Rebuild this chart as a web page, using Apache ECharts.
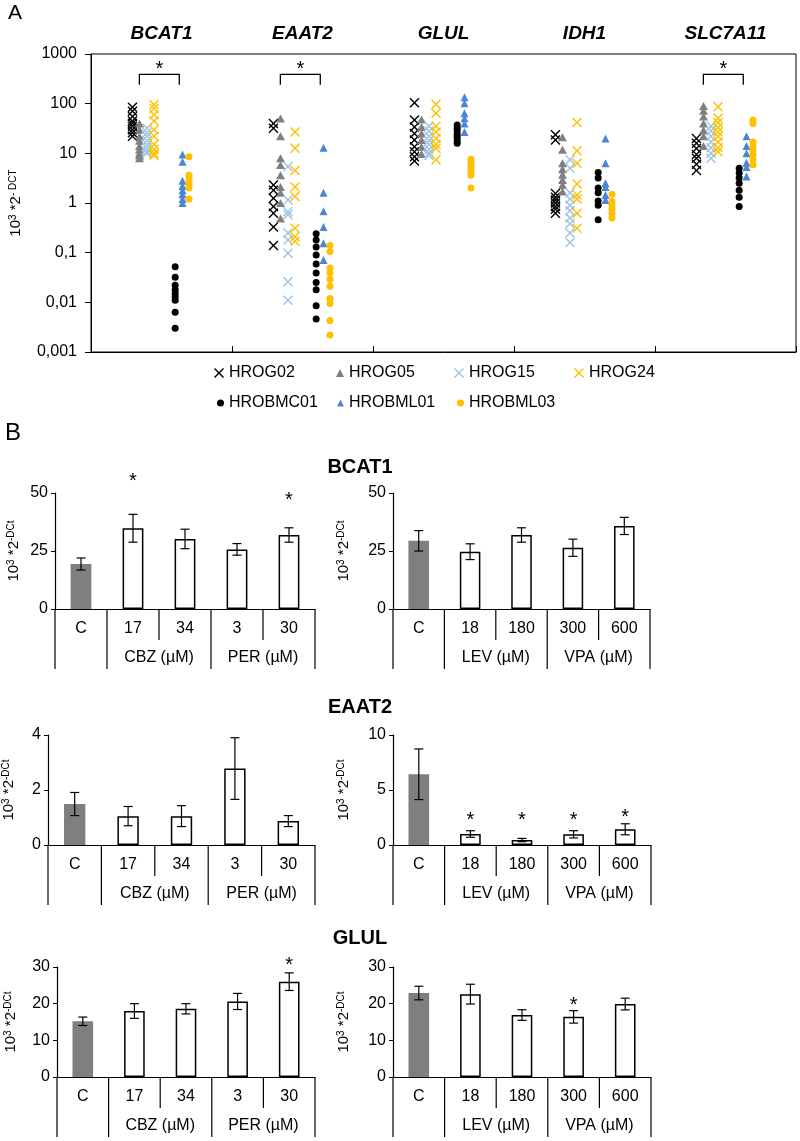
<!DOCTYPE html>
<html><head><meta charset="utf-8">
<script src="https://cdn.jsdelivr.net/npm/echarts@6/dist/echarts.min.js"></script>
<style>html,body{margin:0;padding:0;background:#fff}#c{width:800px;height:1141px}</style>
</head><body><div id="c"></div>
<script>
const FONT = '"Liberation Sans", Arial, sans-serif';

// ---------- Panel A data ----------
const genes = ['BCAT1', 'EAAT2', 'GLUL', 'IDH1', 'SLC7A11'];
const yLabelsA = ['0,001', '0,01', '0,1', '1', '10', '100', '1000'];
// each list: values per gene in order BCAT1, EAAT2, GLUL, IDH1, SLC7A11
const HROG02 = [
  [85, 70, 55, 45, 40, 35, 30, 26, 22],
  [40, 32, 2.3, 1.8, 1.25, 0.85, 0.62, 0.33, 0.14],
  [104, 47, 34, 25, 18.5, 13.6, 10.8, 8.5, 7],
  [23.6, 18.5, 1.55, 1.3, 1.15, 1.0, 0.85, 0.75, 0.62],
  [20, 16, 12.5, 9.5, 8, 6, 4.5]
];
const HROG05 = [
  [40, 30, 22, 18, 14, 12, 10, 9, 8],
  [50, 22, 8, 5.8, 3.6, 2.1, 1.6, 1.0, 0.49],
  [48, 34, 25, 18.5, 13.6, 9.7],
  [21, 11.8, 6.3, 4.8, 3.7, 2.9, 2.3, 1.7],
  [90, 72, 55, 40, 29, 22, 14]
];
const HROG15 = [
  [32, 26, 22, 18, 15, 13, 11, 10],
  [5.4, 1.15, 0.67, 0.58, 0.25, 0.18, 0.097, 0.026, 0.011],
  [35, 28, 22, 18, 15, 12, 10, 9],
  [7.4, 5.0, 1.6, 1.2, 0.9, 0.7, 0.5, 0.38, 0.25, 0.16],
  [35, 28, 22, 17, 13, 10, 8]
];
const HROG24 = [
  [95, 80, 60, 45, 30, 22, 15, 12, 10, 9],
  [27, 12.7, 4.5, 2.1, 1.35, 0.31, 0.21, 0.17],
  [97, 64, 35, 27, 20, 15, 12.6, 7.4],
  [42, 11.3, 6.3, 2.4, 1.45, 1.2, 0.62, 0.31],
  [87, 51, 42, 33, 27, 22, 17, 13, 10.7]
];
const HROBMC01 = [
  [0.052, 0.032, 0.022, 0.018, 0.015, 0.013, 0.011, 0.0063, 0.003],
  [0.24, 0.18, 0.13, 0.09, 0.059, 0.039, 0.025, 0.018, 0.0085, 0.0046],
  [37, 32, 28, 24, 21, 18, 16],
  [4.1, 3.2, 2.0, 1.6, 1.1, 0.9, 0.46],
  [5.0, 4.0, 3.2, 2.5, 1.8, 1.3, 0.85]
];
const HROBML01 = [
  [9.5, 6.8, 2.8, 2.2, 1.8, 1.5, 1.2, 1.0],
  [13, 1.6, 0.68, 0.33, 0.155, 0.071],
  [134, 102, 64, 51, 40, 27],
  [20, 6.3, 2.5, 2.1, 1.45, 1.15],
  [22, 14, 10, 6.5, 5.3, 3.4]
];
const HROBML03 = [
  [8.5, 3.6, 3.1, 2.7, 2.3, 2.0, 1.2],
  [0.14, 0.105, 0.049, 0.039, 0.029, 0.021, 0.012, 0.0095, 0.0043, 0.0022],
  [7.6, 6.5, 5.7, 4.9, 4.3, 3.6, 2.0],
  [1.5, 1.07, 0.9, 0.75, 0.62, 0.5],
  [47, 40, 17, 14, 11.5, 9.5, 7.5, 5.9]
];
const sigGenesA = ['BCAT1', 'EAAT2', 'SLC7A11'];

// ---------- Panel B data ----------
const catsL = ['C', '17', '34', '3', '30'];
const catsR = ['C', '18', '180', '300', '600'];
const groupsL = ['CBZ (µM)', 'PER (µM)'];
const groupsR = ['LEV (µM)', 'VPA (µM)'];

const bcat1L = [19.4, 34.8, 30.2, 25.7, 31.9];
const bcat1LErr = [2.6, 6.0, 4.2, 2.5, 3.1];
const bcat1LStar = [null, 56.5, null, null, 48.4];
const bcat1R = [29.4, 24.7, 31.9, 26.4, 35.8];
const bcat1RErr = [4.4, 3.4, 3.1, 3.7, 3.7];
const bcat1RStar = [null, null, null, null, null];

const eaat2L = [1.49, 1.05, 1.05, 2.78, 0.87];
const eaat2LErr = [0.42, 0.35, 0.38, 1.12, 0.2];
const eaat2LStar = [null, null, null, null, null];
const eaat2R = [6.43, 1.0, 0.45, 0.97, 1.43];
const eaat2RErr = [2.3, 0.3, 0.15, 0.33, 0.5];
const eaat2RStar = [null, 2.6, 2.6, 2.6, 2.9];

const glulL = [15.2, 18.0, 18.6, 20.6, 26.0];
const glulLErr = [1.15, 2.0, 1.4, 2.2, 2.4];
const glulLStar = [null, null, null, null, 31.4];
const glulR = [22.9, 22.6, 16.9, 16.4, 19.9];
const glulRErr = [1.85, 2.7, 1.45, 1.7, 1.6];
const glulRStar = [null, null, null, 20.5, null];

// ---------- build ----------
const XPATH = 'path://M0,1L1,0L5,4L9,0L10,1L6,5L10,9L9,10L5,6L1,10L0,9L4,5Z';
const seriesDefsA = [
  {name: 'HROG02', data: HROG02, off: -0.206, symbol: XPATH, size: 10, color: '#000000', icon: 10},
  {name: 'HROG05', data: HROG05, off: -0.156, symbol: 'triangle', size: [9, 8], color: '#808080', icon: 8},
  {name: 'HROG15', data: HROG15, off: -0.103, symbol: XPATH, size: 10, color: '#9DC3E6', icon: 10},
  {name: 'HROG24', data: HROG24, off: -0.053, symbol: XPATH, size: 10, color: '#FFC000', icon: 10},
  {name: 'HROBMC01', data: HROBMC01, off: 0.097, symbol: 'circle', size: 7, color: '#000000', icon: 7},
  {name: 'HROBML01', data: HROBML01, off: 0.149, symbol: 'triangle', size: [8, 8], color: '#4A86D4', icon: 7},
  {name: 'HROBML03', data: HROBML03, off: 0.195, symbol: 'circle', size: 7, color: '#FFC000', icon: 7}
];
// legend grid: column, row
const legendSlots = [[0, 0], [1, 0], [2, 0], [3, 0], [0, 1], [1, 1], [2, 1]];

const grid = [], xAxis = [], yAxis = [], series = [];
const nameRich = {s: {fontSize: 10, fontFamily: FONT, color: '#000', verticalAlign: 'top', lineHeight: 10}};

grid.push({left: 91, top: 54, width: 705, height: 298, show: true, borderColor: '#000', borderWidth: 1, backgroundColor: 'transparent'});
xAxis.push({type: 'value', gridIndex: 0, min: 0, max: 5, interval: 1,
  axisLine: {show: true, onZero: false, lineStyle: {color: '#000'}},
  axisTick: {show: true, inside: true, length: 6, lineStyle: {color: '#000'}},
  axisLabel: {show: false}, splitLine: {show: false}});
xAxis.push({type: 'category', gridIndex: 0, position: 'top', data: genes,
  axisLine: {show: false}, axisTick: {show: false}, splitLine: {show: false},
  axisLabel: {fontFamily: FONT, fontSize: 19, fontWeight: 'bold', fontStyle: 'italic', color: '#000', margin: 11}});
yAxis.push({type: 'log', gridIndex: 0, logBase: 10, min: 0.001, max: 1000, splitNumber: 6,
  axisLine: {show: true, onZero: false, lineStyle: {color: '#000'}},
  axisTick: {show: true, length: 6, lineStyle: {color: '#000'}},
  minorTick: {show: false}, splitLine: {show: false},
  axisLabel: {formatter: v => yLabelsA[Math.round(Math.log10(v)) + 3], fontSize: 16, fontFamily: FONT, color: '#000', margin: 14},
  name: '10{s|3} *2{s|- DCT}', nameLocation: 'middle', nameGap: 68, nameRotate: 90,
  nameTextStyle: {fontSize: 15, fontFamily: FONT, color: '#000', rich: nameRich}});

seriesDefsA.forEach(d => {
  const pts = [];
  d.data.forEach((vals, gi) => vals.forEach(v => pts.push([gi + 0.5 + d.off, v])));
  series.push({type: 'scatter', name: d.name, xAxisIndex: 0, yAxisIndex: 0, data: pts,
    symbol: d.symbol, symbolSize: d.size, itemStyle: {color: d.color, opacity: 1}, silent: true});
});

// significance brackets panel A
series.push({type: 'custom', xAxisIndex: 0, yAxisIndex: 0, silent: true, z: 10,
  data: sigGenesA.map(g => [genes.indexOf(g) + 0.5]),
  renderItem: (params, api) => {
    const c = api.value(0);
    const l = api.coord([c - 0.157, 240]), r = api.coord([c + 0.126, 240]);
    const t = api.coord([c, 390]);
    return {type: 'group', children: [
      {type: 'polyline', shape: {points: [[l[0], l[1]], [l[0], t[1]], [r[0], t[1]], [r[0], r[1]]]}, style: {stroke: '#000', lineWidth: 1.3, fill: null}},
      {type: 'text', x: (l[0] + r[0]) / 2, y: t[1] - 5, style: {text: '*', font: '20px ' + FONT, fill: '#000', align: 'center', verticalAlign: 'middle', textAlign: 'center', textVerticalAlign: 'middle'}}
    ]};
  }});

// ---------- Panel B builder ----------
function errRender(params, api) {
  const i = api.value(0), v = api.value(1), e = api.value(2);
  const hi = api.coord([i, v + e]), lo = api.coord([i, v - e]);
  const x = hi[0], c = 4.5;
  const st = {stroke: '#000', lineWidth: 1.2};
  return {type: 'group', children: [
    {type: 'line', shape: {x1: x, y1: hi[1], x2: x, y2: lo[1]}, style: st},
    {type: 'line', shape: {x1: x - c, y1: hi[1], x2: x + c, y2: hi[1]}, style: st},
    {type: 'line', shape: {x1: x - c, y1: lo[1], x2: x + c, y2: lo[1]}, style: st}
  ]};
}
function starRender(params, api) {
  const p = api.coord([api.value(0), api.value(1)]);
  return {type: 'text', x: p[0], y: p[1] + 4, style: {text: '*', font: '20px ' + FONT, fill: '#000', align: 'center', verticalAlign: 'middle', textAlign: 'center', textVerticalAlign: 'middle'}};
}
function decorRender(cats, groups) {
  return (params, api) => {
    const n = cats.length;
    const bw = api.size([1, 0])[0];
    const y0 = api.coord([0, 0])[1];
    const bx = k => k < n ? api.coord([k, 0])[0] - bw / 2 : api.coord([n - 1, 0])[0] + bw / 2;
    const st = {stroke: '#000', lineWidth: 1.2};
    const ch = [];
    [0, 1, 3, 5].forEach(k => ch.push({type: 'line', shape: {x1: bx(k), y1: y0, x2: bx(k), y2: y0 + 60}, style: st}));
    [2, 4].forEach(k => ch.push({type: 'line', shape: {x1: bx(k), y1: y0, x2: bx(k), y2: y0 + 31}, style: st}));
    ch.push({type: 'text', x: (bx(1) + bx(3)) / 2, y: y0 + 49, style: {text: groups[0], font: '16px ' + FONT, fill: '#000', align: 'center', verticalAlign: 'middle', textAlign: 'center', textVerticalAlign: 'middle'}});
    ch.push({type: 'text', x: (bx(3) + bx(5)) / 2, y: y0 + 49, style: {text: groups[1], font: '16px ' + FONT, fill: '#000', align: 'center', verticalAlign: 'middle', textAlign: 'center', textVerticalAlign: 'middle'}});
    return {type: 'group', children: ch};
  };
}
function addPanelB(cfg) {
  const gi = grid.length, xi = xAxis.length, yi = yAxis.length;
  grid.push({left: cfg.left, top: cfg.top, width: cfg.width, height: cfg.height});
  xAxis.push({type: 'category', gridIndex: gi, data: cfg.cats,
    axisLine: {show: true, lineStyle: {color: '#000', width: 1.2}}, axisTick: {show: false},
    axisLabel: {fontSize: 16, fontFamily: FONT, color: '#000', margin: 12, interval: 0}, splitLine: {show: false}});
  yAxis.push({type: 'value', gridIndex: gi, min: 0, max: cfg.max, interval: cfg.interval,
    axisLine: {show: true, lineStyle: {color: '#000', width: 1.2}},
    axisTick: {show: true, length: 4, lineStyle: {color: '#000'}},
    axisLabel: {fontSize: 16, fontFamily: FONT, color: '#000', margin: 7}, splitLine: {show: false},
    name: '10{s|3} *2{s|-DCt}', nameLocation: 'middle', nameGap: cfg.nameGap, nameRotate: 90,
    nameTextStyle: {fontSize: 15, fontFamily: FONT, color: '#000', rich: nameRich}});
  series.push({type: 'bar', xAxisIndex: xi, yAxisIndex: yi, barWidth: '40%', silent: true,
    data: cfg.vals.map((v, i) => ({value: v, itemStyle: i === 0 ? {color: '#7f7f7f', borderWidth: 0} : {color: '#fff', borderColor: '#000', borderWidth: 1.5}}))});
  series.push({type: 'custom', xAxisIndex: xi, yAxisIndex: yi, silent: true, z: 5,
    data: cfg.vals.map((v, i) => [i, v, cfg.errs[i]]), renderItem: errRender});
  const sd = cfg.stars.map((s, i) => [i, s]).filter(d => d[1] != null);
  if (sd.length) series.push({type: 'custom', xAxisIndex: xi, yAxisIndex: yi, silent: true, z: 5, data: sd, renderItem: starRender});
  series.push({type: 'custom', xAxisIndex: xi, yAxisIndex: yi, silent: true, z: 5, data: [[0, 0]], renderItem: decorRender(cfg.cats, cfg.groups)});
}

addPanelB({left: 55, top: 493, width: 260, height: 116, cats: catsL, groups: groupsL, vals: bcat1L, errs: bcat1LErr, stars: bcat1LStar, max: 50, interval: 25, nameGap: 34});
addPanelB({left: 393, top: 493, width: 257, height: 116, cats: catsR, groups: groupsR, vals: bcat1R, errs: bcat1RErr, stars: bcat1RStar, max: 50, interval: 25, nameGap: 42});
addPanelB({left: 48, top: 735, width: 267, height: 110, cats: catsL, groups: groupsL, vals: eaat2L, errs: eaat2LErr, stars: eaat2LStar, max: 4, interval: 2, nameGap: 32});
addPanelB({left: 393, top: 735, width: 258, height: 110, cats: catsR, groups: groupsR, vals: eaat2R, errs: eaat2RErr, stars: eaat2RStar, max: 10, interval: 5, nameGap: 42});
addPanelB({left: 57, top: 967, width: 258, height: 110, cats: catsL, groups: groupsL, vals: glulL, errs: glulLErr, stars: glulLStar, max: 30, interval: 10, nameGap: 39});
addPanelB({left: 393, top: 967, width: 258, height: 110, cats: catsR, groups: groupsR, vals: glulR, errs: glulRErr, stars: glulRStar, max: 30, interval: 10, nameGap: 42});

const legends = seriesDefsA.map((d, i) => ({
  data: [d.name], left: 229 - 5 - d.icon + legendSlots[i][0] * 120, top: 365 + legendSlots[i][1] * 30,
  orient: 'horizontal', itemWidth: d.icon, itemHeight: d.icon, selectedMode: false, padding: 0,
  textStyle: {fontSize: 16, fontFamily: FONT, color: '#000'}
}));

const txt = (text, x, y, font, va) => ({type: 'text', x: x, y: y, style: {text: text, font: font, fill: '#000', align: 'center', verticalAlign: va || 'middle', textAlign: 'center', textVerticalAlign: va || 'middle'}});

const option = {
  animation: false,
  backgroundColor: '#fff',
  grid, xAxis, yAxis, series,
  legend: legends,
  graphic: [
    txt('A', 15, 3, '21px ' + FONT, 'top'),
    txt('B', 13, 421, '24px ' + FONT, 'top'),
    txt('BCAT1', 360, 467, 'bold 20px ' + FONT),
    txt('EAAT2', 360, 707, 'bold 20px ' + FONT),
    txt('GLUL', 360, 938, 'bold 20px ' + FONT)
  ]
};
const chart = echarts.init(document.getElementById('c'), null, {renderer: 'canvas'});
chart.setOption(option);
</script>
</body></html>
